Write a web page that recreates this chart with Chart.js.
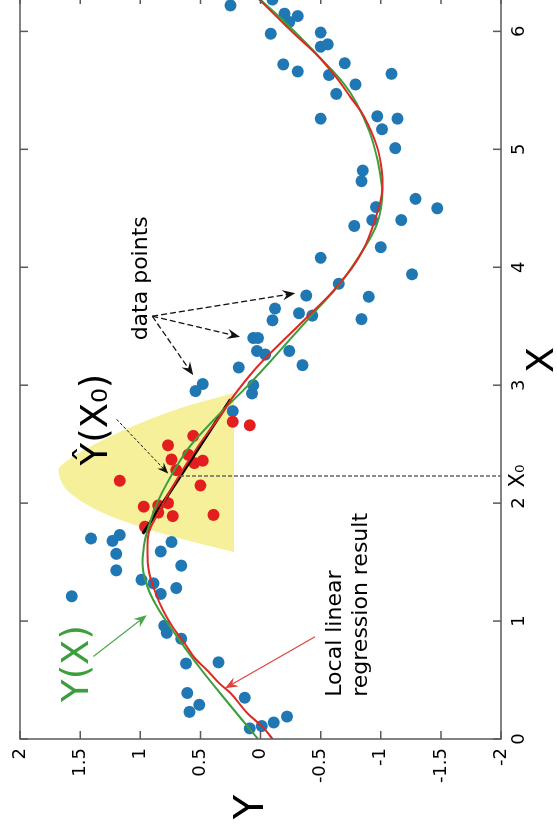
<!DOCTYPE html>
<html>
<head>
<meta charset="utf-8">
<script src="https://cdn.jsdelivr.net/npm/chart.js@4/dist/chart.umd.min.js"></script>
<style>
  html, body { margin: 0; padding: 0; background: #fff; overflow: hidden; width: 557px; height: 825px; }
  /* the figure is drawn landscape and turned a quarter turn to the left */
  #wrap { position: absolute; left: 0; top: 825px; width: 840px; height: 557px; transform-origin: 0 0; transform: rotate(-90deg); }
  canvas { width: 840px; height: 557px; }
</style>
</head>
<body>
<div id="wrap"><canvas id="c" width="840" height="557"></canvas></div>
<script>
const xTicks = [0, 1, 2, 3, 4, 5, 6];
const yTicks = [-2, -1.5, -1, -0.5, 0, 0.5, 1, 1.5, 2];
const X0 = 2.23;

// scattered samples outside the kernel window
const blueX = [6.22, 6.27, 5.98, 5.72, 6.15, 6.13, 6.08, 5.99, 5.87, 5.89, 5.66, 5.73, 5.63, 5.64, 5.55, 5.47,
  5.26, 5.28, 5.26, 5.17, 5.01, 4.82, 4.73, 4.58, 4.50, 4.51, 4.40, 4.40, 4.35, 4.17, 4.08, 3.94, 3.86, 3.76,
  3.75, 3.65, 3.61, 3.59, 3.55, 3.56, 3.40, 3.40, 3.29, 3.26, 3.29, 3.17, 3.15, 3.01, 2.95, 3.00, 2.93, 2.78,
  1.70, 1.68, 1.73, 1.57, 1.43, 1.59, 1.67, 1.47, 1.35, 1.32, 1.23, 1.28, 1.21, 0.96, 0.90, 0.85, 0.64, 0.65,
  0.39, 0.29, 0.23, 0.35, 0.09, 0.11, 0.14, 0.19];
const blueY = [0.25, -0.10, -0.085, -0.19, -0.20, -0.31, -0.24, -0.50, -0.50, -0.56, -0.31, -0.70, -0.57, -1.09, -0.79, -0.63,
  -0.50, -0.97, -1.14, -1.01, -1.12, -0.85, -0.84, -1.29, -1.47, -0.96, -0.93, -1.17, -0.78, -1.00, -0.50, -1.26, -0.65, -0.38,
  -0.90, -0.12, -0.32, -0.43, -0.10, -0.84, 0.06, 0.02, 0.03, -0.04, -0.24, -0.35, 0.18, 0.48, 0.54, 0.06, 0.07, 0.23,
  1.41, 1.23, 1.17, 1.20, 1.20, 0.83, 0.74, 0.66, 0.99, 0.89, 0.83, 0.70, 1.57, 0.80, 0.78, 0.66, 0.62, 0.35,
  0.61, 0.51, 0.59, 0.13, 0.09, -0.01, -0.11, -0.22];

// samples inside the kernel window
const redX = [2.69, 2.66, 2.57, 2.49, 2.37, 2.41, 2.34, 2.36, 2.28, 2.19, 2.15, 1.97, 1.98, 2.00, 1.92, 1.89, 1.90, 1.80];
const redY = [0.23, 0.09, 0.56, 0.77, 0.74, 0.60, 0.55, 0.48, 0.70, 1.17, 0.50, 0.97, 0.85, 0.77, 0.85, 0.73, 0.39, 0.96];

// true function Y(X)
const trueX = [0.00, 0.27, 0.61, 0.92, 1.12, 1.29, 1.46, 1.63, 1.77, 2.00, 2.22, 2.45, 2.64, 2.81, 2.98, 3.21,
  3.36, 3.62, 3.86, 4.14, 4.37, 4.57, 4.68, 4.88, 5.14, 5.39, 5.56, 5.75, 5.95, 6.12, 6.24, 6.30];
const trueY = [0.02, 0.24, 0.51, 0.73, 0.86, 0.94, 0.98, 0.97, 0.94, 0.86, 0.75, 0.61, 0.45, 0.29, 0.12, -0.09,
  -0.22, -0.45, -0.66, -0.85, -0.97, -1.01, -1.01, -0.98, -0.91, -0.80, -0.69, -0.52, -0.33, -0.16, -0.03, 0.03];

// local linear regression result
const fitX = [0.00, 0.10, 0.22, 0.39, 0.47, 0.58, 0.69, 0.81, 0.95, 1.09, 1.26, 1.43, 1.60, 1.75, 1.86, 2.14,
  2.48, 2.76, 2.90, 3.13, 3.30, 3.58, 3.83, 4.14, 4.46, 4.63, 4.80, 5.02, 5.28, 5.44, 5.61, 5.80, 5.98, 6.24, 6.30];
const fitY = [-0.10, -0.02, 0.11, 0.25, 0.34, 0.44, 0.55, 0.63, 0.73, 0.81, 0.88, 0.93, 0.94, 0.93, 0.88, 0.73,
  0.52, 0.32, 0.23, 0.05, -0.11, -0.39, -0.63, -0.85, -0.97, -1.01, -1.01, -0.97, -0.86, -0.75, -0.63, -0.47, -0.28, -0.02, 0.04];

// local line at X0
const localX = [1.74, 2.88];
const localY = [0.98, 0.25];

// kernel weight shape (yellow)
const kernelX = [1.585, 1.70, 1.83, 1.94, 2.11, 2.22, 2.28, 2.38, 2.51, 2.64, 2.805, 2.935];
const kernelY = [0.22, 0.67, 1.09, 1.36, 1.61, 1.67, 1.68, 1.58, 1.36, 1.09, 0.67, 0.22];
const kernelBase = 0.22;

const pts = (xs, ys) => xs.map((x, i) => ({ x: x, y: ys[i] }));
const FONT = "'DejaVu Sans', sans-serif";
const AXIS = "#595959";

function arrow(ctx, x1, y1, x2, y2, color, width, dash, head) {
  const a = Math.atan2(y2 - y1, x2 - x1);
  ctx.save();
  ctx.strokeStyle = color; ctx.fillStyle = color; ctx.lineWidth = width;
  ctx.setLineDash(dash);
  ctx.beginPath();
  ctx.moveTo(x1, y1);
  ctx.lineTo(x2 - Math.cos(a) * head * 0.6, y2 - Math.sin(a) * head * 0.6);
  ctx.stroke();
  ctx.setLineDash([]);
  ctx.beginPath();
  ctx.moveTo(x2, y2);
  ctx.lineTo(x2 - head * Math.cos(a - 0.38), y2 - head * Math.sin(a - 0.38));
  ctx.lineTo(x2 - head * 0.6 * Math.cos(a), y2 - head * 0.6 * Math.sin(a));
  ctx.lineTo(x2 - head * Math.cos(a + 0.38), y2 - head * Math.sin(a + 0.38));
  ctx.closePath();
  ctx.fill();
  ctx.restore();
}

const frame = {
  id: "frame",
  afterDatasetsDraw(chart) {
    const ctx = chart.ctx, a = chart.chartArea;
    const sx = chart.scales.x, sy = chart.scales.y;
    const px = (v) => sx.getPixelForValue(v), py = (v) => sy.getPixelForValue(v);
    ctx.save();

    // dashed drop line from the estimate down to X0
    ctx.strokeStyle = "#666"; ctx.lineWidth = 1.5; ctx.setLineDash([4, 2]);
    ctx.beginPath(); ctx.moveTo(px(X0), py(0.67)); ctx.lineTo(px(X0), a.bottom); ctx.stroke();
    ctx.setLineDash([]);

    // box with inward ticks on all four sides
    ctx.strokeStyle = AXIS; ctx.lineWidth = 1.5;
    ctx.strokeRect(a.left, a.top, a.right - a.left, a.bottom - a.top);
    ctx.beginPath();
    xTicks.forEach((t) => {
      const x = px(t);
      ctx.moveTo(x, a.bottom); ctx.lineTo(x, a.bottom - 8);
      ctx.moveTo(x, a.top); ctx.lineTo(x, a.top + 8);
    });
    yTicks.forEach((t) => {
      const y = py(t);
      ctx.moveTo(a.left, y); ctx.lineTo(a.left + 8, y);
      ctx.moveTo(a.right, y); ctx.lineTo(a.right - 8, y);
    });
    ctx.stroke();

    // X0 label beside the tick labels
    ctx.fillStyle = "#000"; ctx.font = "21px " + FONT;
    ctx.textAlign = "center"; ctx.textBaseline = "top";
    ctx.fillText("X₀", px(X0), a.bottom + 7);

    // axis titles
    ctx.textBaseline = "middle";
    ctx.font = "40px " + FONT;
    ctx.fillText("Y", 18, 253);
    ctx.font = "38px " + FONT;
    ctx.fillText("X", 465, 543);

    // annotations
    ctx.textAlign = "left"; ctx.textBaseline = "alphabetic";
    ctx.font = "22px " + FONT;
    ctx.fillText("data points", px(3.38), py(0.944));
    ctx.fillText("Local linear", px(0.358), py(-0.669));
    ctx.fillText("regression result", px(0.358), py(-0.886));
    ctx.font = "37px " + FONT;
    ctx.fillText("Ŷ(X₀)", px(2.32), py(1.276));
    ctx.fillStyle = "#3c9e3c";
    ctx.fillText("Y(X)", px(0.314), py(1.434));

    const o = [px(3.585), py(0.90)];
    arrow(ctx, o[0], o[1], px(3.78), py(-0.29), "#111", 1.3, [6, 3], 14);
    arrow(ctx, o[0], o[1], px(3.41), py(0.17), "#111", 1.3, [6, 3], 14);
    arrow(ctx, o[0], o[1], px(3.085), py(0.56), "#111", 1.3, [6, 3], 14);
    arrow(ctx, px(2.71), py(1.196), px(2.25), py(0.767), "#111", 1, [3, 2], 12);
    arrow(ctx, px(0.70), py(1.39), px(1.05), py(0.946), "#4aa64a", 1.2, [], 14);
    arrow(ctx, px(0.867), py(-0.453), px(0.43), py(0.295), "#e0413a", 1.2, [], 14);
    ctx.restore();
  }
};

new Chart(document.getElementById("c"), {
  type: "line",
  data: {
    datasets: [
      { data: pts(kernelX, kernelY), fill: { value: kernelBase }, backgroundColor: "#f7f09a",
        borderWidth: 0, pointRadius: 0, cubicInterpolationMode: "monotone", order: 6 },
      { data: pts(blueX, blueY), showLine: false, pointRadius: 6, pointBorderWidth: 0,
        pointBackgroundColor: "#1f77b4", order: 5 },
      { data: pts(redX, redY), showLine: false, pointRadius: 6, pointBorderWidth: 0,
        pointBackgroundColor: "#e31e1e", order: 4 },
      { data: pts(localX, localY), borderColor: "#000", borderWidth: 3, pointRadius: 0, order: 3 },
      { data: pts(trueX, trueY), borderColor: "#3c9e3c", borderWidth: 2, pointRadius: 0,
        tension: 0.4, order: 2 },
      { data: pts(fitX, fitY), borderColor: "#dc2a22", borderWidth: 2, pointRadius: 0,
        tension: 0.4, order: 1 }
    ]
  },
  options: {
    responsive: false,
    animation: false,
    devicePixelRatio: 1,
    layout: { padding: { top: 20, right: 11, left: 0, bottom: 0 } },
    plugins: { legend: { display: false }, tooltip: { enabled: false } },
    scales: {
      x: {
        type: "linear", position: "bottom", min: 0, max: 6.3,
        afterBuildTicks: (s) => { s.ticks = xTicks.map((v) => ({ value: v })); },
        afterFit: (s) => { s.height = 56; },
        grid: { display: false, drawTicks: false }, border: { display: false },
        ticks: { color: "#000", font: { family: FONT, size: 18 }, padding: 8, maxRotation: 0,
          callback: (v) => String(v) }
      },
      y: {
        type: "linear", min: -2, max: 2,
        afterBuildTicks: (s) => { s.ticks = yTicks.map((v) => ({ value: v })); },
        afterFit: (s) => { s.width = 86; },
        grid: { display: false, drawTicks: false }, border: { display: false },
        ticks: { color: "#000", font: { family: FONT, size: 18 }, padding: 9,
          callback: (v) => String(v) }
      }
    }
  },
  plugins: [frame]
});
</script>
</body>
</html>
